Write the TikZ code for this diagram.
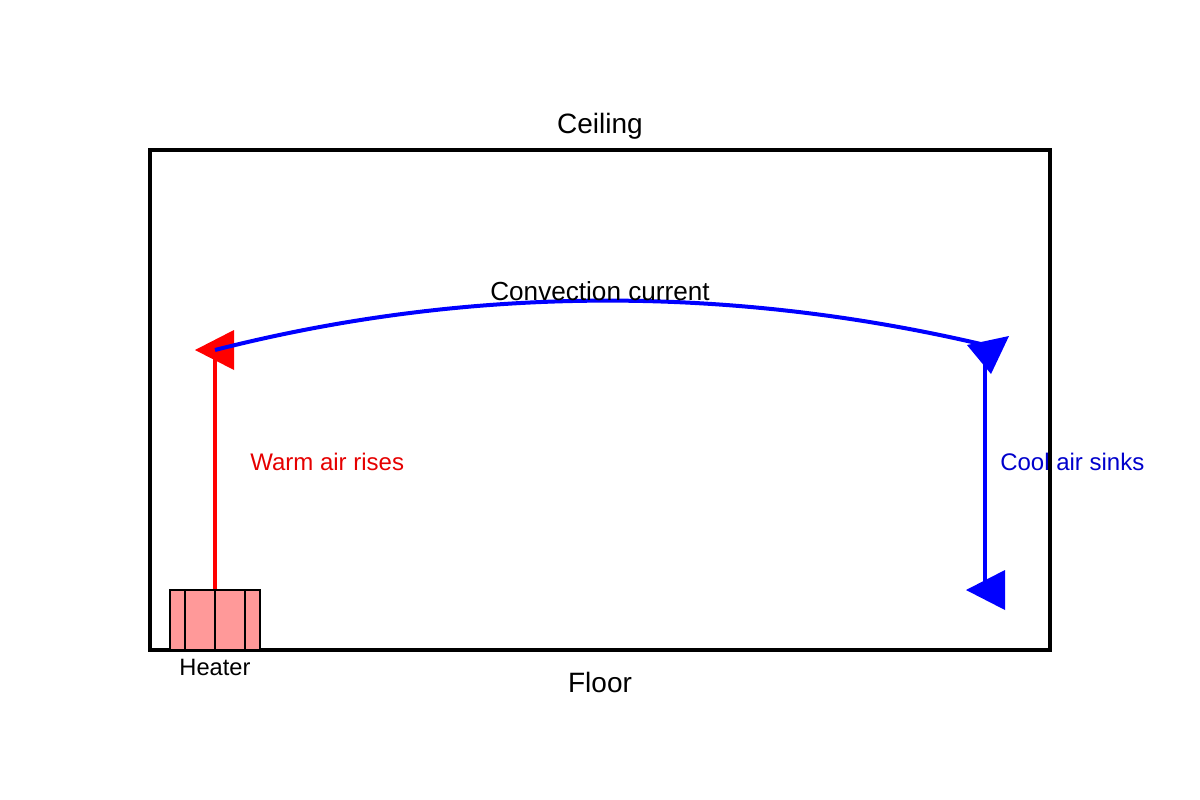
\documentclass[tikz,border=0pt]{standalone}
\usepackage{fontspec}
\setmainfont{Liberation Sans}
\begin{document}
\begin{tikzpicture}[x=0.75pt,y=-0.75pt,
  lbl/.style={inner sep=0pt,anchor=center},
  hot/.style={fill=red,draw=none},
  cold/.style={fill=blue,draw=none}]
\useasboundingbox (0,0) rectangle (1200,800);
\definecolor{heat}{HTML}{FF9999}
\node[draw=black,line width=3pt,minimum width=675pt,minimum height=375pt,inner sep=0pt] (room) at (600,400) {};
\node[lbl,font=\fontsize{21}{24}\selectfont] (ceil) at (600,126) {Ceiling};
\node[lbl,font=\fontsize{21}{24}\selectfont] (floor) at (600,682) {Floor};
\node[draw=black,line width=2pt,fill=heat,minimum width=67.5pt,minimum height=45pt,inner sep=0pt] (heater) at (215,620) {};
\foreach \xx in {185,215,245} \draw[line width=1.3pt] (\xx,590) -- (\xx,650);
\node[lbl,font=\fontsize{17.75}{20}\selectfont] (hl) at (215,667) {Heater};
\coordinate (rt) at (215,350);
\coordinate (bt) at (985,345);
\coordinate (bb) at (985,590);
\draw[red,line width=3pt] (heater.north) -- (rt);
\draw[hot] (195,350) -- (234,330) -- (234,370) -- cycle;
\draw[blue,line width=3pt] (bt) -- (bb);
\draw[blue,line width=3pt] (rt) .. controls (470,285) and (730,285) .. (bt);
\draw[cold] (967,345) -- (1009,336) -- (991,374) -- cycle;
\draw[cold] (966,590) -- (1005,570) -- (1005,610) -- cycle;
\node[lbl,font=\fontsize{19.6}{22}\selectfont] (cc) at (600,291) {Convection current};
\node[lbl,anchor=west,red!90!black,font=\fontsize{18}{21}\selectfont] (wa) at (250,462) {Warm air rises};
\node[lbl,anchor=west,blue!80!black,font=\fontsize{18}{21}\selectfont] (ca) at (1000,462) {Cool air sinks};
\end{tikzpicture}
\end{document}
